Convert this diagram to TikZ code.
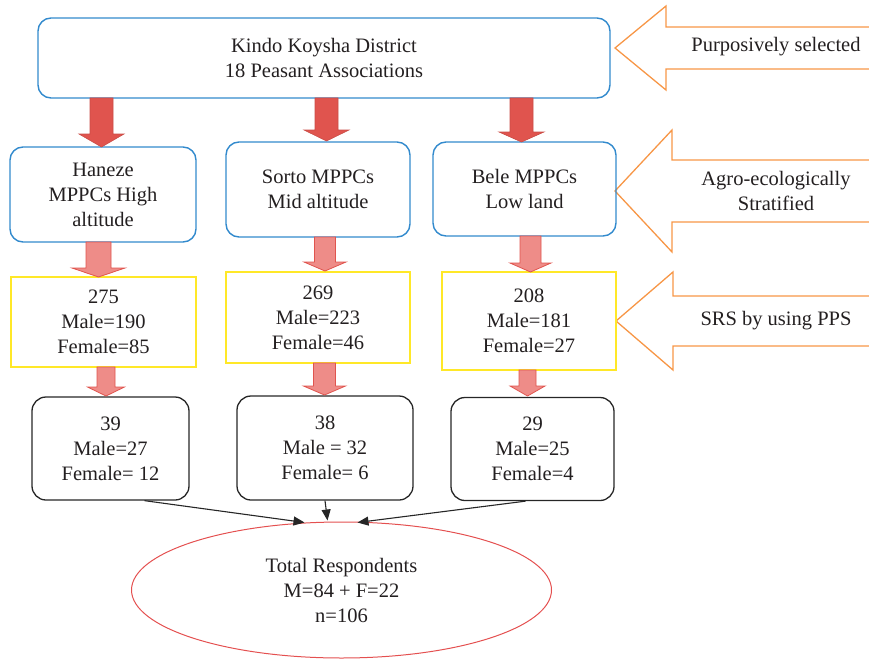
\documentclass[tikz,border=0pt]{standalone}
\usepackage{fontspec}
\setmainfont{Liberation Serif}
\usetikzlibrary{arrows.meta,shapes.geometric,calc}
\definecolor{boxblue}{RGB}{50,138,205}
\definecolor{orng}{RGB}{247,150,70}
\definecolor{darkred}{RGB}{224,84,78}
\definecolor{pinkfill}{RGB}{238,140,136}
\definecolor{yel}{RGB}{255,232,40}
\definecolor{txt}{RGB}{35,31,32}
\definecolor{ellred}{RGB}{228,80,80}
\tikzset{
  every node/.style={text=txt,font=\fontsize{20.5}{25}\selectfont,align=center},
  bluebox/.style={draw=boxblue,line width=1.4pt,rounded corners=13pt,inner sep=0pt},
  yelbox/.style={draw=yel,line width=1.4pt,inner sep=0pt},
  blkbox/.style={draw=black!85,line width=1.3pt,rounded corners=14pt,inner sep=0pt},
  sidearrow/.style={draw=orng,line width=1.3pt,line join=miter},
  redarrow/.style={fill=darkred,draw=darkred!90!black,line width=0.6pt},
  pinkarrow/.style={fill=pinkfill,draw=darkred,line width=0.8pt},
  conn/.style={draw=black!85,line width=1.1pt,-{Triangle[length=11pt,width=9pt]}},
  label/.style={inner sep=0pt}
}
% x center, y top, y head base, y tip, shaft half width, head half width
\newcommand{\blockdown}[7]{%
  \draw[#1] (#2-#6,#3) -- (#2+#6,#3) -- (#2+#6,#4) -- (#2+#7,#4) -- (#2,#5)
    -- (#2-#7,#4) -- (#2-#6,#4) -- cycle;}
\begin{document}
\begin{tikzpicture}[x=1pt,y=-1pt]
\useasboundingbox (0,0) rectangle (869,658);

% side arrows (open at right edge)
\draw[sidearrow] (875,27) -- (666,27) -- (666,6) -- (615,48) -- (666,90) -- (666,69) -- (875,69);
\draw[sidearrow] (875,160) -- (672,160) -- (672,130) -- (615,191) -- (672,252) -- (672,222) -- (875,222);
\draw[sidearrow] (875,296) -- (673,296) -- (673,272) -- (616,321) -- (673,370) -- (673,346) -- (875,346);
\node[label] (l1) at (776,47) {Purposively selected};
\node[label] (l2) at (776,191) {Agro-ecologically\\Stratified};
\node[label] (l3) at (776,321) {SRS by using PPS};

% top
\node[bluebox,minimum width=572pt,minimum height=80pt] (top) at (324,58)
  {Kindo Koysha District\\18 Peasant Associations};

% level 2
\node[bluebox,minimum width=186pt,minimum height=95pt] (h) at (103,194.5) {Haneze\\MPPCs High\\altitude};
\node[bluebox,minimum width=184pt,minimum height=95pt] (s) at (318,189.5) {Sorto MPPCs\\Mid altitude};
\node[bluebox,minimum width=183pt,minimum height=94pt] (b) at (524.5,189) {Bele MPPCs\\Low land};

% level 3
\node[yelbox,minimum width=185pt,minimum height=90pt] (h3) at (103.5,322) {275\\Male=190\\Female=85};
\node[yelbox,minimum width=184pt,minimum height=91pt] (s3) at (318,317.5) {269\\Male=223\\Female=46};
\node[yelbox,minimum width=174pt,minimum height=98pt] (b3) at (529,321) {208\\Male=181\\Female=27};

% level 4
\node[blkbox,minimum width=157pt,minimum height=103pt] (h4) at (110.5,448.5) {39\\Male=27\\Female= 12};
\node[blkbox,minimum width=176pt,minimum height=104pt] (s4) at (325,448) {38\\Male = 32\\Female= 6};
\node[blkbox,minimum width=163pt,minimum height=103pt] (b4) at (532.5,449) {29\\Male=25\\Female=4};

% total
\node[draw=ellred,line width=1pt,ellipse,minimum width=420pt,minimum height=136pt,inner sep=0pt] (tot) at (341.5,590)
  {Total Respondents\\M=84 + F=22\\n=106};

% block arrows top -> level 2
\blockdown{redarrow}{101.5}{98}{134}{147}{11.5}{22.5}
\blockdown{redarrow}{326.5}{98}{130}{141}{11.5}{22.5}
\blockdown{redarrow}{521.5}{98}{132}{142}{11.5}{22.5}

% level 2 -> level 3
\blockdown{pinkarrow}{98.5}{242}{268}{277}{12.5}{26.5}
\blockdown{pinkarrow}{325}{237}{262}{271}{10.5}{21}
\blockdown{pinkarrow}{530.5}{236}{263}{272}{10.5}{20.5}

% level 3 -> level 4
\blockdown{pinkarrow}{106}{367}{387}{396}{9}{18.5}
\blockdown{pinkarrow}{324.5}{363}{386}{395}{11}{21}
\blockdown{pinkarrow}{527.5}{370}{386}{396}{8.5}{17.5}

% connectors
\draw[conn] ($(h4.south)+(34,0)$) -- ($(tot.north)+(-37,1)$);
\draw[conn] (s4.south) -- ($(tot.north)+(-14,-1)$);
\draw[conn] ($(b4.south)+(-7,0)$) -- ($(tot.north)+(16,1)$);
\end{tikzpicture}
\end{document}
